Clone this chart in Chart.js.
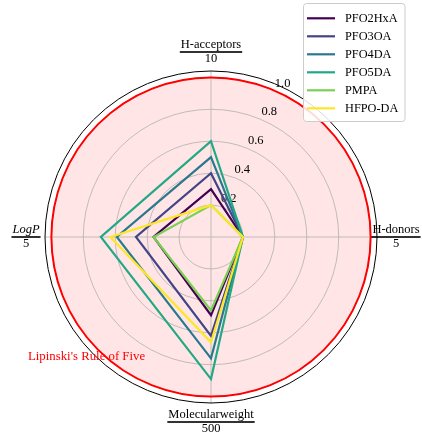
<!DOCTYPE html>
<html>
<head>
<meta charset="utf-8">
<title>PFAS vs Lipinski</title>
<script src="https://cdn.jsdelivr.net/npm/chart.js@4.4.1/dist/chart.umd.min.js"></script>
<style>
  html, body { margin: 0; padding: 0; background: #fff; }
  #wrap { position: relative; width: 422px; height: 434px; }
</style>
</head>
<body>
<div id="wrap"><canvas id="radar"></canvas></div>
<script>
// axes, clockwise from the top, and the divisor used to normalise each one
const categories = ["H-acceptors", "H-donors", "Molecularweight", "LogP"];
const divisors = ["10", "5", "500", "5"];
const rTicks = [0.2, 0.4, 0.6, 0.8, 1.0];

// normalised values per compound (same axis order as above)
const compounds = ["PFO2HxA", "PFO3OA", "PFO4DA", "PFO5DA", "PMPA", "HFPO-DA"];
const PFO2HxA = [0.3, 0.2, 0.49, 0.36];
const PFO3OA  = [0.4, 0.2, 0.62, 0.47];
const PFO4DA  = [0.5, 0.2, 0.76, 0.59];
const PFO5DA  = [0.6, 0.2, 0.89, 0.69];
const PMPA    = [0.2, 0.2, 0.46, 0.36];
const HFPODA  = [0.2, 0.2, 0.66, 0.63];
const seriesValues = [PFO2HxA, PFO3OA, PFO4DA, PFO5DA, PMPA, HFPODA];

// viridis, 6 steps
const colors = ["#440154", "#414487", "#2a788e", "#22a884", "#7ad151", "#fde725"];

const SERIF = "'Liberation Serif', 'Times New Roman', serif";
const R_MAX = 1.04;
const LINE_W = 2.2;

// pink area + red ring for the rule of five, black frame, r tick labels
const rulePlugin = {
  id: "rule",
  beforeDraw(chart) {
    const s = chart.scales.r;
    const ctx = chart.ctx;
    ctx.save();
    ctx.beginPath();
    ctx.arc(s.xCenter, s.yCenter, s.getDistanceFromCenterForValue(1.0), 0, Math.PI * 2);
    ctx.fillStyle = "rgba(255, 0, 0, 0.1)";
    ctx.fill();
    ctx.restore();
  },
  beforeDatasetsDraw(chart) {
    const s = chart.scales.r;
    const ctx = chart.ctx;
    ctx.save();
    ctx.beginPath();
    ctx.arc(s.xCenter, s.yCenter, s.getDistanceFromCenterForValue(1.0), 0, Math.PI * 2);
    ctx.strokeStyle = "#ff0000";
    ctx.lineWidth = 2;
    ctx.stroke();

    ctx.beginPath();
    ctx.arc(s.xCenter, s.yCenter, s.getDistanceFromCenterForValue(R_MAX), 0, Math.PI * 2);
    ctx.strokeStyle = "#000";
    ctx.lineWidth = 1;
    ctx.stroke();

    // tick labels sit on a ray slightly right of north
    const a = 25 * Math.PI / 180;
    ctx.font = "12.5px " + SERIF;
    ctx.fillStyle = "#000";
    ctx.textAlign = "center";
    ctx.textBaseline = "middle";
    rTicks.forEach(v => {
      const d = s.getDistanceFromCenterForValue(v) + 10;
      ctx.fillText(v.toFixed(1), s.xCenter + d * Math.sin(a), s.yCenter - d * Math.cos(a));
    });
    ctx.restore();
  },
  afterDraw(chart) {
    const s = chart.scales.r;
    const ctx = chart.ctx;
    ctx.save();

    // axis names written as "name / divisor"
    categories.forEach((name, i) => {
      const p = s.getPointPosition(i, s.drawingArea + 19);
      const topFont = (name === "LogP" ? "italic " : "") + "12.5px " + SERIF;
      ctx.font = topFont;
      const w1 = ctx.measureText(name).width;
      ctx.font = "12.5px " + SERIF;
      const w2 = ctx.measureText(divisors[i]).width;
      const w = Math.max(w1, w2) + 2;
      ctx.fillStyle = "#000";
      ctx.textAlign = "center";
      ctx.textBaseline = "alphabetic";
      ctx.font = topFont;
      ctx.fillText(name, p.x, p.y - 4.5);
      ctx.font = "12.5px " + SERIF;
      ctx.fillText(divisors[i], p.x, p.y + 10);
      ctx.fillRect(p.x - w / 2, p.y - 0.8, w, 1.6);
    });

    ctx.font = "12.8px " + SERIF;
    ctx.fillStyle = "#ff0000";
    ctx.textAlign = "left";
    ctx.textBaseline = "middle";
    ctx.fillText("Lipinski's Rule of Five", 28, 357);

    // legend box, top right
    const bx = 303.5, by = 3.5, bw = 101.5, bh = 118;
    ctx.beginPath();
    ctx.roundRect(bx, by, bw, bh, 3);
    ctx.fillStyle = "rgba(255, 255, 255, 0.85)";
    ctx.fill();
    ctx.strokeStyle = "#cccccc";
    ctx.lineWidth = 1;
    ctx.stroke();
    compounds.forEach((name, i) => {
      const y = 18.3 + 18 * i;
      ctx.beginPath();
      ctx.moveTo(307, y);
      ctx.lineTo(335, y);
      ctx.strokeStyle = colors[i];
      ctx.lineWidth = LINE_W;
      ctx.stroke();
      ctx.fillStyle = "#000";
      ctx.font = "12.3px " + SERIF;
      ctx.fillText(name, 345, y + 0.5);
    });
    ctx.restore();
  }
};

const datasets = compounds.map((name, i) => ({
  label: name,
  data: seriesValues[i],
  borderColor: colors[i],
  borderWidth: LINE_W,
  backgroundColor: "transparent",
  fill: false,
  pointRadius: 0,
  pointHoverRadius: 0,
  order: compounds.length - i
}));

new Chart(document.getElementById("radar"), {
  type: "radar",
  data: { labels: categories, datasets },
  options: {
    responsive: true,
    maintainAspectRatio: false,
    animation: false,
    layout: { padding: { left: 45, right: 45, top: 71, bottom: 31 } },
    plugins: { legend: { display: false }, tooltip: { enabled: false } },
    elements: { line: { tension: 0, borderJoinStyle: "miter" } },
    scales: {
      r: {
        min: 0,
        max: R_MAX,
        afterBuildTicks(axis) {
          axis.ticks = [0, ...rTicks].map(v => ({ value: v }));
        },
        ticks: { display: false },
        pointLabels: { display: false },
        grid: { circular: true, color: "#b0b0b0", lineWidth: 0.8 },
        angleLines: { color: "#b0b0b0", lineWidth: 0.8 }
      }
    }
  },
  plugins: [rulePlugin]
});
</script>
</body>
</html>
